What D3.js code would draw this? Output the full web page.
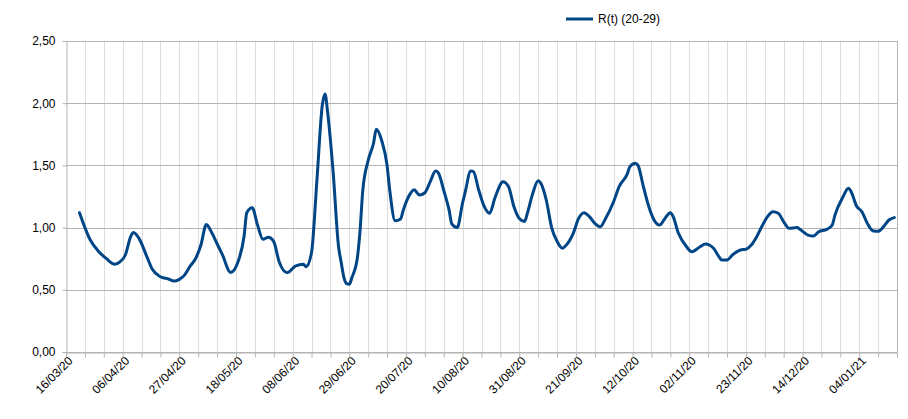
<!DOCTYPE html>
<html><head><meta charset="utf-8">
<script src="https://cdn.jsdelivr.net/npm/d3@7"></script>
<style>body{margin:0;background:#fff}svg{display:block}text{font-family:"Liberation Sans",Arial,sans-serif}</style>
</head><body><svg id="c" width="908" height="419"></svg>
<script>
const seriesName = "R(t) (20-29)";
const dates = ["2020-03-21","2020-03-25","2020-03-28","2020-03-31","2020-04-03","2020-04-05","2020-04-07","2020-04-09","2020-04-10","2020-04-12",
"2020-04-15","2020-04-17","2020-04-20","2020-04-23","2020-04-25","2020-04-27","2020-04-29","2020-05-01","2020-05-03","2020-05-05",
"2020-05-07","2020-05-09","2020-05-11","2020-05-13","2020-05-16","2020-05-19","2020-05-21","2020-05-22","2020-05-24","2020-05-26",
"2020-05-28","2020-05-30","2020-06-01","2020-06-03","2020-06-06","2020-06-09","2020-06-12","2020-06-13","2020-06-15","2020-06-17",
"2020-06-19","2020-06-20","2020-06-21","2020-06-23","2020-06-25","2020-06-26","2020-06-27","2020-06-28","2020-06-29","2020-06-30",
"2020-07-02","2020-07-03","2020-07-04","2020-07-06","2020-07-08","2020-07-09","2020-07-11","2020-07-13","2020-07-14","2020-07-16",
"2020-07-18","2020-07-19","2020-07-21","2020-07-23","2020-07-25","2020-07-27","2020-07-29","2020-07-31","2020-08-01","2020-08-03",
"2020-08-05","2020-08-06","2020-08-08","2020-08-10","2020-08-11","2020-08-13","2020-08-14","2020-08-16","2020-08-18","2020-08-20",
"2020-08-22","2020-08-25","2020-08-27","2020-08-29","2020-08-31","2020-09-02","2020-09-03","2020-09-05","2020-09-07","2020-09-08",
"2020-09-10","2020-09-12","2020-09-14","2020-09-16","2020-09-17","2020-09-20","2020-09-22","2020-09-24","2020-09-26","2020-09-28",
"2020-09-30","2020-10-02","2020-10-05","2020-10-07","2020-10-10","2020-10-11","2020-10-13","2020-10-14","2020-10-16","2020-10-18",
"2020-10-20","2020-10-22","2020-10-24","2020-10-26","2020-10-27","2020-10-29","2020-11-01","2020-11-03","2020-11-06","2020-11-08",
"2020-11-11","2020-11-13","2020-11-14","2020-11-16","2020-11-18","2020-11-21","2020-11-23","2020-11-25","2020-11-27","2020-11-29",
"2020-12-01","2020-12-03","2020-12-05","2020-12-07","2020-12-09","2020-12-12","2020-12-13","2020-12-16","2020-12-18","2020-12-20",
"2020-12-23","2020-12-25","2020-12-26","2020-12-29","2020-12-31","2021-01-01","2021-01-03","2021-01-05","2021-01-07","2021-01-09",
"2021-01-11","2021-01-13","2021-01-15","2021-01-17"];
const values = [1.12,0.90,0.81,0.75,0.705,0.725,0.78,0.93,0.96,0.915,
0.765,0.665,0.605,0.587,0.57,0.584,0.62,0.69,0.75,0.86,
1.025,0.96,0.87,0.78,0.64,0.74,0.93,1.12,1.16,1.02,
0.906,0.922,0.887,0.726,0.638,0.69,0.705,0.686,0.80,1.38,
1.985,2.074,1.92,1.45,0.85,0.72,0.60,0.55,0.545,0.60,
0.76,0.98,1.30,1.54,1.68,1.79,1.70,1.50,1.30,1.055,
1.07,1.14,1.25,1.305,1.262,1.28,1.37,1.455,1.44,1.30,
1.14,1.03,1.0,1.2,1.29,1.455,1.45,1.30,1.17,1.115,
1.24,1.369,1.33,1.17,1.074,1.05,1.115,1.275,1.377,1.356,
1.222,1.0,0.89,0.834,0.85,0.954,1.074,1.12,1.088,1.034,
1.007,1.074,1.21,1.33,1.43,1.49,1.517,1.50,1.33,1.17,
1.06,1.021,1.074,1.12,1.09,0.954,0.846,0.806,0.846,0.868,
0.834,0.766,0.74,0.74,0.78,0.82,0.826,0.86,0.927,1.013,
1.088,1.128,1.115,1.047,0.994,1.0,0.986,0.94,0.932,0.967,
0.986,1.021,1.10,1.248,1.316,1.289,1.174,1.128,1.034,0.975,
0.97,1.007,1.061,1.08];
const yTicks = [0,0.5,1.0,1.5,2.0,2.5];
const xStart = "2020-03-16", xEnd = "2021-01-18";

const parse = d3.timeParse("%Y-%m-%d");
const data = dates.map((d,i)=>({date:parse(d), v:values[i]}));
const svg = d3.select("#c");
const L=66, R=897, T=41, B=352;
const x = d3.scaleTime().domain([parse(xStart), parse(xEnd)]).range([L,R]);
const y = d3.scaleLinear().domain([0,2.5]).range([B,T]);
const weeks = d3.timeDay.range(parse(xStart), d3.timeDay.offset(parse(xEnd),1), 7);
const fmt = d3.timeFormat("%d/%m/%y");
const yfmt = v => d3.format(".2f")(v).replace(".",",");

// vertical grid
svg.append("g").selectAll("line").data(weeks.slice(1)).join("line")
  .attr("x1",d=>Math.round(x(d))+0.5).attr("x2",d=>Math.round(x(d))+0.5)
  .attr("y1",T).attr("y2",B)
  .attr("stroke", (d,i)=> i===weeks.length-2 ? "#b3b3b3" : "#dddddd").attr("stroke-width",1);
// horizontal grid
svg.append("g").selectAll("line").data(yTicks).join("line")
  .attr("x1",L).attr("x2",R).attr("y1",d=>Math.round(y(d))+0.5).attr("y2",d=>Math.round(y(d))+0.5)
  .attr("stroke","#b3b3b3").attr("stroke-width",1);

// y axis
const ya = svg.append("g").attr("transform",`translate(${L+0.5},0)`)
  .call(d3.axisLeft(y).tickValues(yTicks).tickFormat(yfmt).tickSize(4).tickPadding(7));
ya.select(".domain").attr("stroke","#b3b3b3");
ya.selectAll(".tick line").attr("stroke","#b3b3b3");
ya.selectAll("text").attr("font-size",12).attr("fill","#000");

// x axis
const xa = svg.append("g").attr("transform",`translate(0,${B+0.5})`)
  .call(d3.axisBottom(x).tickValues(weeks).tickFormat((d,i)=> i%3===0 ? fmt(d) : "").tickSize(5).tickSizeOuter(0));
xa.select(".domain").attr("stroke","#b3b3b3");
xa.selectAll(".tick line").attr("stroke","#b3b3b3");
xa.selectAll("text").attr("font-size",12).attr("fill","#000")
  .attr("text-anchor","end").attr("dy","0.35em")
  .attr("transform","translate(4,6) rotate(-45)").attr("y",0).attr("x",0);

// line
svg.append("path").datum(data)
  .attr("fill","none").attr("stroke","#004586").attr("stroke-width",3)
  .attr("stroke-linejoin","round").attr("stroke-linecap","round")
  .attr("d", d3.line().x(d=>x(d.date)).y(d=>y(d.v)).curve(d3.curveMonotoneX));

// legend
const lg = svg.append("g").attr("transform","translate(566,19)");
lg.append("line").attr("x1",0).attr("x2",27).attr("y1",0).attr("y2",0).attr("stroke","#004586").attr("stroke-width",3);
lg.append("text").attr("x",32).attr("y",0).attr("dy","0.35em").attr("font-size",12).attr("fill","#000").text(seriesName);
</script></body></html>
